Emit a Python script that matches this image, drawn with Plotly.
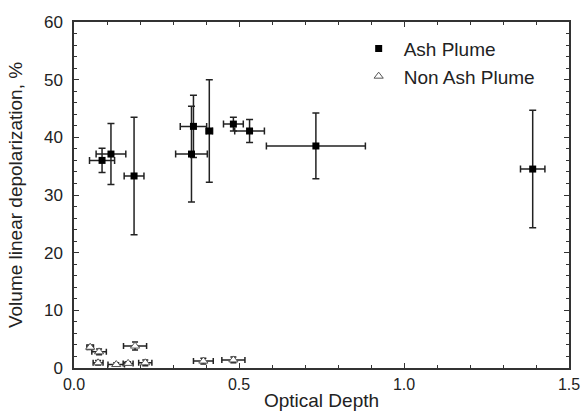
import plotly.graph_objects as go

# Ash Plume
ash_x = [0.085, 0.112, 0.182, 0.362, 0.356, 0.410, 0.483, 0.532, 0.733, 1.390]
ash_y = [36.0, 37.1, 33.3, 41.9, 37.1, 41.1, 42.3, 41.1, 38.5, 34.5]
ash_xerr = [0.038, 0.045, 0.030, 0.040, 0.048, 0.010, 0.030, 0.045, 0.150, 0.037]
ash_yerr = [2.1, 5.3, 10.2, 5.4, 8.3, 8.9, 1.2, 2.0, 5.7, 10.2]

# Non Ash Plume
non_x = [0.049, 0.076, 0.185, 0.073, 0.128, 0.164, 0.216, 0.392, 0.483]
non_y = [3.6, 2.8, 3.8, 0.9, 0.6, 0.8, 0.9, 1.2, 1.4]
non_xerr = [0.010, 0.022, 0.035, 0.015, 0.025, 0.015, 0.020, 0.030, 0.035]
non_yerr = [0.4, 0.5, 0.7, 0.4, 0.3, 0.3, 0.5, 0.5, 0.5]

x_tick_vals = [0, 0.5, 1.0, 1.5]
x_tick_text = ["0.0", "0.5", "1.0", "1.5"]
y_tick_vals = [0, 10, 20, 30, 40, 50, 60]

err_color = "#222222"
FONT = "Liberation Sans, Arial"

fig = go.Figure()
fig.add_trace(go.Scatter(
    x=ash_x, y=ash_y, mode="markers", name="Ash Plume",
    marker=dict(symbol="square", size=7, color="black"),
    error_x=dict(type="data", array=ash_xerr, color=err_color, thickness=1.5, width=3.5),
    error_y=dict(type="data", array=ash_yerr, color=err_color, thickness=1.5, width=3.5),
))
fig.add_trace(go.Scatter(
    x=non_x, y=non_y, mode="markers", name="Non Ash Plume",
    marker=dict(symbol="triangle-up", size=8, color="white", line=dict(width=1, color="#555555")),
    error_x=dict(type="data", array=non_xerr, color=err_color, thickness=1.5, width=3),
    error_y=dict(type="data", array=non_yerr, color=err_color, thickness=1.5, width=3),
))

axis_common = dict(
    showline=True, linecolor="#333333", linewidth=1.5, mirror="ticks",
    ticks="inside", ticklen=5, tickwidth=1.2, tickcolor="#333333",
    showgrid=False, zeroline=False, automargin=False,
    title_font=dict(family=FONT, size=19, color="#222222"),
)

fig.update_xaxes(
    range=[0, 1.5], tickvals=x_tick_vals, ticktext=x_tick_text,
    tickfont=dict(family=FONT, size=16, color="#222222"),
    minor=dict(dtick=0.1, ticks="inside", ticklen=3, tickcolor="#333333", showgrid=False),
    title_text="Optical Depth", title_standoff=2, ticklabelstandoff=1,
    ticklabeloverflow="allow", **axis_common,
)
fig.update_yaxes(
    range=[0, 60], tickvals=y_tick_vals,
    tickfont=dict(family=FONT, size=17, color="#222222"),
    minor=dict(dtick=2, ticks="inside", ticklen=3, tickcolor="#333333", showgrid=False),
    title_text="Volume linear depolarization, %", title_standoff=16, ticklabelstandoff=6,
    **axis_common,
)

# plot area placed at x 74..569, y 22..368 of the page
fig.update_layout(
    width=581, height=416,
    margin=dict(l=74, r=12, t=22, b=48),
    paper_bgcolor="white", plot_bgcolor="white",
    showlegend=True,
    legend=dict(
        x=0.565, y=0.978, xanchor="left", yanchor="top",
        bgcolor="rgba(0,0,0,0)", borderwidth=0,
        font=dict(family=FONT, size=19, color="#222222"),
        itemsizing="trace", itemwidth=40, tracegroupgap=0,
    ),
)

fig.write_html(
    "out.html",
    config={"displayModeBar": False},
    post_script="document.body.style.margin='0';document.body.style.overflow='hidden';",
)
